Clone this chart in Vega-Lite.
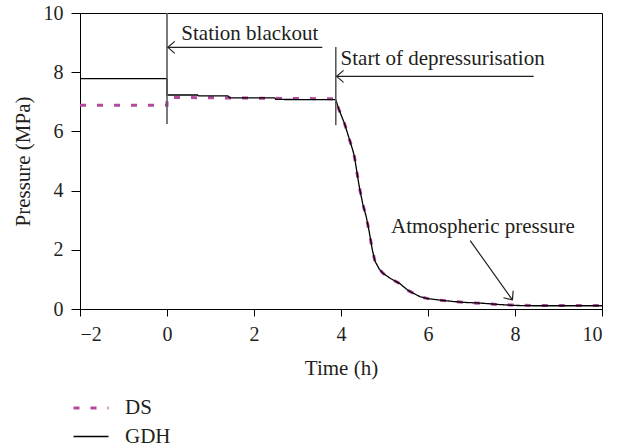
{
  "$schema": "https://vega.github.io/schema/vega-lite/v6.json",
  "width": 522,
  "height": 296,
  "autosize": {"type": "none"},
  "padding": {"left": 80, "top": 13, "right": 22, "bottom": 137},
  "background": "white",
  "config": {
    "view": {"stroke": "#000000", "strokeWidth": 1},
    "font": "Liberation Serif",
    "axis": {
      "labelFont": "Liberation Serif",
      "titleFont": "Liberation Serif",
      "labelFontSize": 20,
      "titleFontSize": 21,
      "titleFontWeight": "normal",
      "labelColor": "#231f20",
      "titleColor": "#231f20",
      "domainColor": "#000000",
      "tickColor": "#000000",
      "grid": false
    },
    "legend": {
      "labelFont": "Liberation Serif",
      "labelFontSize": 21,
      "labelColor": "#231f20"
    }
  },
  "datasets": {
    "series": [
      {"t": -2, "p": 6.88, "series": "DS"},
      {"t": 0, "p": 6.88, "series": "DS"},
      {"t": 0, "p": 7.15, "series": "DS"},
      {"t": 1.5, "p": 7.13, "series": "DS"},
      {"t": 3.88, "p": 7.1, "series": "DS"},
      {"t": 3.95, "p": 6.75, "series": "DS"},
      {"t": 4.08, "p": 6.27, "series": "DS"},
      {"t": 4.2, "p": 5.7, "series": "DS"},
      {"t": 4.27, "p": 5.37, "series": "DS"},
      {"t": 4.31, "p": 5.14, "series": "DS"},
      {"t": 4.42, "p": 4.13, "series": "DS"},
      {"t": 4.5, "p": 3.55, "series": "DS"},
      {"t": 4.58, "p": 3.12, "series": "DS"},
      {"t": 4.65, "p": 2.6, "series": "DS"},
      {"t": 4.72, "p": 2.0, "series": "DS"},
      {"t": 4.78, "p": 1.62, "series": "DS"},
      {"t": 4.88, "p": 1.35, "series": "DS"},
      {"t": 4.97, "p": 1.2, "series": "DS"},
      {"t": 5.15, "p": 1.02, "series": "DS"},
      {"t": 5.35, "p": 0.86, "series": "DS"},
      {"t": 5.55, "p": 0.62, "series": "DS"},
      {"t": 5.81, "p": 0.42, "series": "DS"},
      {"t": 6.0, "p": 0.35, "series": "DS"},
      {"t": 6.27, "p": 0.3, "series": "DS"},
      {"t": 6.6, "p": 0.25, "series": "DS"},
      {"t": 6.88, "p": 0.22, "series": "DS"},
      {"t": 7.2, "p": 0.19, "series": "DS"},
      {"t": 7.65, "p": 0.15, "series": "DS"},
      {"t": 8.0, "p": 0.13, "series": "DS"},
      {"t": 8.4, "p": 0.12, "series": "DS"},
      {"t": 10, "p": 0.12, "series": "DS"},
      {"t": -2, "p": 7.78, "series": "GDH"},
      {"t": 0, "p": 7.78, "series": "GDH"},
      {"t": 0, "p": 7.23, "series": "GDH"},
      {"t": 0.7, "p": 7.23, "series": "GDH"},
      {"t": 0.72, "p": 7.2, "series": "GDH"},
      {"t": 1.4, "p": 7.2, "series": "GDH"},
      {"t": 1.45, "p": 7.13, "series": "GDH"},
      {"t": 2.48, "p": 7.13, "series": "GDH"},
      {"t": 2.5, "p": 7.08, "series": "GDH"},
      {"t": 3.88, "p": 7.07, "series": "GDH"},
      {"t": 3.95, "p": 6.75, "series": "GDH"},
      {"t": 4.08, "p": 6.27, "series": "GDH"},
      {"t": 4.2, "p": 5.7, "series": "GDH"},
      {"t": 4.27, "p": 5.37, "series": "GDH"},
      {"t": 4.31, "p": 5.14, "series": "GDH"},
      {"t": 4.42, "p": 4.13, "series": "GDH"},
      {"t": 4.5, "p": 3.55, "series": "GDH"},
      {"t": 4.58, "p": 3.12, "series": "GDH"},
      {"t": 4.65, "p": 2.6, "series": "GDH"},
      {"t": 4.72, "p": 2.0, "series": "GDH"},
      {"t": 4.78, "p": 1.62, "series": "GDH"},
      {"t": 4.88, "p": 1.35, "series": "GDH"},
      {"t": 4.97, "p": 1.2, "series": "GDH"},
      {"t": 5.15, "p": 1.02, "series": "GDH"},
      {"t": 5.35, "p": 0.86, "series": "GDH"},
      {"t": 5.55, "p": 0.62, "series": "GDH"},
      {"t": 5.81, "p": 0.42, "series": "GDH"},
      {"t": 6.0, "p": 0.35, "series": "GDH"},
      {"t": 6.27, "p": 0.3, "series": "GDH"},
      {"t": 6.6, "p": 0.25, "series": "GDH"},
      {"t": 6.88, "p": 0.22, "series": "GDH"},
      {"t": 7.2, "p": 0.2, "series": "GDH"},
      {"t": 7.65, "p": 0.15, "series": "GDH"},
      {"t": 8.0, "p": 0.12, "series": "GDH"},
      {"t": 8.4, "p": 0.11, "series": "GDH"},
      {"t": 10, "p": 0.11, "series": "GDH"}
    ],
    "markers": [
      {"t": 0, "p": 10, "t2": 0, "p2": 6.25},
      {"t": 3.88, "p": 8.85, "t2": 3.88, "p2": 6.21}
    ],
    "arrows": [
      {"t": 0.02, "p": 8.84, "t2": 3.57, "p2": 8.84},
      {"t": 3.9, "p": 7.86, "t2": 8.43, "p2": 7.86},
      {"t": 7.94, "p": 0.31, "t2": 6.97, "p2": 2.31}
    ],
    "heads": [
      {"t": 0.02, "p": 8.84},
      {"t": 3.9, "p": 7.86}
    ],
    "diaghead": [
      {"t": 7.94, "p": 0.31}
    ],
    "labels": [
      {"t": 0.33, "p": 9.3, "text": "Station blackout"},
      {"t": 3.99, "p": 8.43, "text": "Start of depressurisation"},
      {"t": 5.15, "p": 2.76, "text": "Atmospheric pressure"}
    ]
  },
  "layer": [
    {
      "data": {"name": "series"},
      "mark": {"type": "line", "interpolate": "linear"},
      "encoding": {
        "x": {
          "field": "t", "type": "quantitative",
          "scale": {"domain": [-2, 10], "nice": false},
          "axis": {"values": [-2, 0, 2, 4, 6, 8, 10], "title": "Time (h)", "tickSize": 7, "labelPadding": 8, "titlePadding": 13}
        },
        "y": {
          "field": "p", "type": "quantitative",
          "scale": {"domain": [0, 10], "nice": false},
          "axis": {"values": [0, 2, 4, 6, 8, 10], "title": "Pressure (MPa)", "tickSize": 9, "labelPadding": 8, "titlePadding": 10}
        },
        "color": {
          "field": "series", "type": "nominal",
          "scale": {"domain": ["DS", "GDH"], "range": ["#b5489f", "#000000"]},
          "legend": {
            "title": null, "orient": "none", "legendX": -8, "legendY": 376,
            "symbolType": "stroke", "symbolSize": 1225, "labelOffset": 15,
            "rowPadding": -8, "padding": 0
          }
        },
        "strokeDash": {
          "field": "series", "type": "nominal",
          "scale": {"domain": ["DS", "GDH"], "range": [[6, 11], [1, 0]]},
          "legend": null
        },
        "strokeWidth": {
          "field": "series", "type": "nominal",
          "scale": {"domain": ["DS", "GDH"], "range": [3, 1.3]},
          "legend": null
        }
      }
    },
    {
      "data": {"name": "markers"},
      "mark": {"type": "rule", "color": "#58595b", "strokeWidth": 1.6},
      "encoding": {
        "x": {"field": "t", "type": "quantitative"},
        "y": {"field": "p", "type": "quantitative"},
        "x2": {"field": "t2"},
        "y2": {"field": "p2"}
      }
    },
    {
      "data": {"name": "arrows"},
      "mark": {"type": "rule", "color": "#231f20", "strokeWidth": 1.2},
      "encoding": {
        "x": {"field": "t", "type": "quantitative"},
        "y": {"field": "p", "type": "quantitative"},
        "x2": {"field": "t2"},
        "y2": {"field": "p2"}
      }
    },
    {
      "data": {"name": "heads"},
      "mark": {"type": "point", "shape": "M1.15,-1L0,0L1.15,1", "size": 144, "filled": false, "stroke": "#231f20", "strokeWidth": 1.2, "opacity": 1},
      "encoding": {
        "x": {"field": "t", "type": "quantitative"},
        "y": {"field": "p", "type": "quantitative"}
      }
    },
    {
      "data": {"name": "diaghead"},
      "mark": {"type": "point", "shape": "M1.15,-1L0,0L1.15,1", "size": 144, "filled": false, "stroke": "#231f20", "strokeWidth": 1.2, "opacity": 1, "angle": 234},
      "encoding": {
        "x": {"field": "t", "type": "quantitative"},
        "y": {"field": "p", "type": "quantitative"}
      }
    },
    {
      "data": {"name": "labels"},
      "mark": {"type": "text", "align": "left", "baseline": "middle", "font": "Liberation Serif", "fontSize": 21, "color": "#231f20"},
      "encoding": {
        "x": {"field": "t", "type": "quantitative"},
        "y": {"field": "p", "type": "quantitative"},
        "text": {"field": "text", "type": "nominal"}
      }
    }
  ]
}
